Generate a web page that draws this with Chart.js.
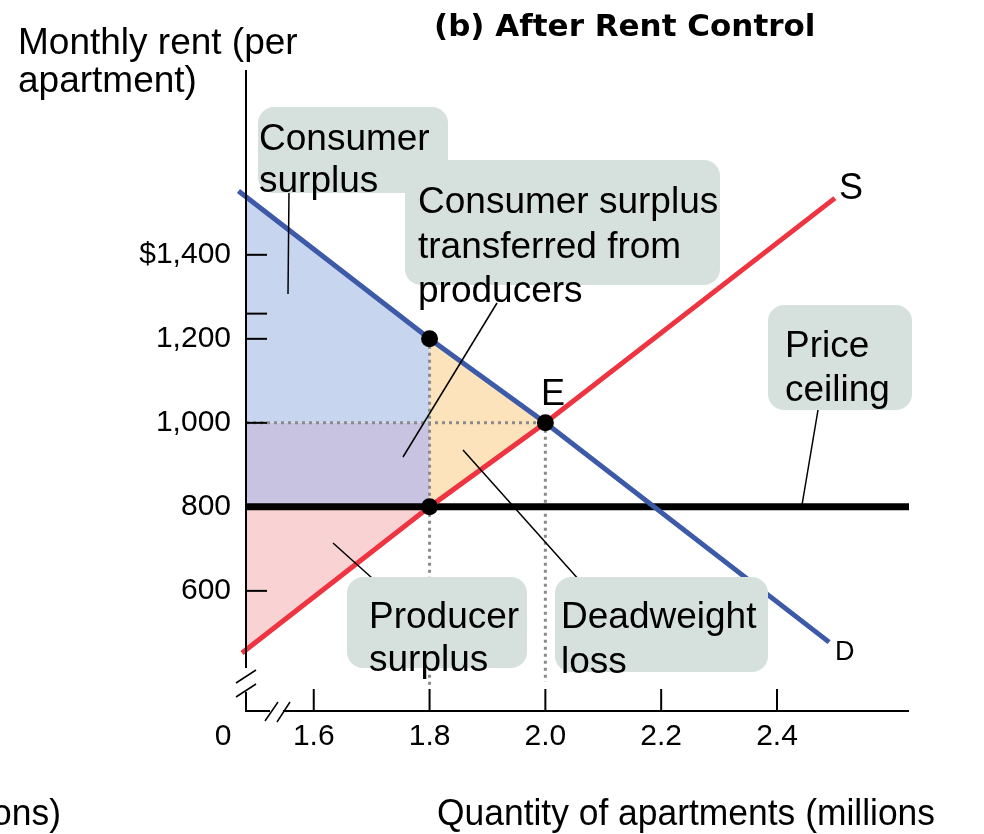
<!DOCTYPE html>
<html><head><meta charset="utf-8">
<script src="https://cdn.jsdelivr.net/npm/chart.js@4/dist/chart.umd.min.js"></script>
<style>html,body{margin:0;padding:0;background:#fff;}canvas{display:block}</style>
</head><body>
<canvas id="c" width="984" height="834"></canvas>
<script>
// ---- data ----
const xTickValues = [1.6, 1.8, 2.0, 2.2, 2.4];
const xTickLabels = ['1.6', '1.8', '2.0', '2.2', '2.4'];
const yTickValues = [600, 800, 1000, 1200, 1400];
const yTickLabels = ['600', '800', '1,000', '1,200', '$1,400'];
const yMinorTicks = [1260];
const xRange = [1.483, 2.628];
const yRange = [314, 1840];

const demandQ = [1.47, 1.8, 2.0, 2.49];
const demandP = [1552, 1200, 1000, 478];
const supplyQ = [1.476, 1.8, 2.0, 2.5];
const supplyP = [452, 800, 1000, 1535];
const ceilingQ = [1.483, 2.628];
const ceilingP = [800, 800];

const consumerQ = [1.483, 1.483, 1.8, 1.8];
const consumerP = [1000, 1538, 1200, 1000];
const transferQ = [1.483, 1.483, 1.8, 1.8];
const transferP = [800, 1000, 1000, 800];
const deadweightQ = [1.8, 2.0, 1.8];
const deadweightP = [1200, 1000, 800];
const producerQ = [1.483, 1.8, 1.483];
const producerP = [800, 800, 460];

const dotQ = [1.8, 2.0, 1.8];
const dotP = [1200, 1000, 800];

const guideH_Q = [1.483, 2.0], guideH_P = [1000, 1000];
const guide18_Q = [1.8, 1.8], guide18_P = [1200, 376];
const guide20_Q = [2.0, 2.0], guide20_P = [1000, 383];

const pts = (qs, ps) => qs.map((q, i) => ({x: q, y: ps[i]}));
const FONT = '"Liberation Sans", Arial, sans-serif';

function poly(q, p, color) {
  return {data: pts(q, p), borderWidth: 0, pointRadius: 0, fill: 'shape',
          backgroundColor: color, borderColor: 'rgba(0,0,0,0)', tension: 0};
}
function guide(q, p) {
  return {data: pts(q, p), borderColor: '#8a8a8a', borderWidth: 3, borderDash: [3, 4],
          pointRadius: 0, fill: false, tension: 0, clip: false};
}

const overlay = {
  id: 'overlay',
  afterDatasetsDraw(chart) {
    const ctx = chart.ctx, xs = chart.scales.x, ys = chart.scales.y;
    const L = xs.left, R = xs.right, T = ys.top, B = ys.bottom;
    const seg = (x1, y1, x2, y2) => { ctx.beginPath(); ctx.moveTo(x1, y1); ctx.lineTo(x2, y2); ctx.stroke(); };
    ctx.save();
    ctx.strokeStyle = '#000'; ctx.lineWidth = 2; ctx.lineCap = 'butt';
    // axes with breaks
    seg(L, T, L, B - 43); seg(L, B - 19, L, B + 1);
    seg(L - 1, B, L + 24, B); seg(L + 37, B, R, B);
    ctx.lineWidth = 1.5;
    seg(L - 10, B - 28, L + 10, B - 41);
    seg(L - 10, B - 14, L + 10, B - 27);
    seg(L + 19, B + 10, L + 32, B - 9);
    seg(L + 31, B + 11, L + 44, B - 9);
    ctx.lineWidth = 2;
    xTickValues.forEach(v => { const px = xs.getPixelForValue(v); seg(px, B, px, B - 22); });
    [...yTickValues, ...yMinorTicks].forEach(v => { const py = ys.getPixelForValue(v); seg(L, py, L + 21, py); });

    // origin label
    ctx.fillStyle = '#000';
    ctx.font = '30px ' + FONT; ctx.textAlign = 'center'; ctx.textBaseline = 'middle';
    ctx.fillText('0', L - 23, B + 26);

    // callout lines
    ctx.lineWidth = 1.5;
    seg(289, 190, 288, 294);
    seg(497, 303, 403, 457);
    seg(463, 450, 580, 581);
    seg(333, 543, 372, 578);
    seg(818, 410, 802, 505);

    // label boxes
    ctx.fillStyle = '#d6e1de';
    const box = (x, y, w, h) => { ctx.beginPath(); ctx.roundRect(x, y, w, h, 16); ctx.fill(); };
    box(258, 107, 190, 86);
    box(405, 160, 315, 125);
    box(768, 305, 144, 105);
    box(347, 577, 180, 91);
    box(555, 577, 213, 95);

    ctx.fillStyle = '#000'; ctx.textAlign = 'left'; ctx.textBaseline = 'alphabetic';
    ctx.font = '37px ' + FONT;
    ctx.fillText('Consumer', 259, 150);
    ctx.fillText('surplus', 259, 192);
    ctx.fillText('Consumer surplus', 418, 213);
    ctx.fillText('transferred from', 418, 258);
    ctx.fillText('producers', 418, 302);
    ctx.fillText('Price', 785, 357);
    ctx.fillText('ceiling', 785, 401);
    ctx.fillText('Producer', 369, 628);
    ctx.fillText('surplus', 369, 671);
    ctx.fillText('Deadweight', 561, 628);
    ctx.fillText('loss', 561, 673);

    // curve labels
    ctx.font = '36px ' + FONT;
    ctx.fillText('S', 839, 199);
    ctx.fillText('E', 541, 405);
    ctx.font = '27px ' + FONT;
    ctx.fillText('D', 835, 660);

    // axis titles
    ctx.font = '37px ' + FONT;
    ctx.fillText('Monthly rent (per', 18, 54);
    ctx.fillText('apartment)', 18, 92);
    ctx.font = '37px ' + FONT;
    const qt = 'Quantity of apartments (millions';
    const qw = ctx.measureText(qt).width, sc = 498 / qw;
    ctx.save(); ctx.translate(437, 825); ctx.scale(sc, 1); ctx.fillText(qt, 0, 0); ctx.restore();
    ctx.save(); ctx.translate(61, 825); ctx.scale(sc, 1); ctx.textAlign = 'right'; ctx.fillText('ons)', 0, 0); ctx.restore();

    // title
    ctx.font = 'bold 31px "DejaVu Sans", sans-serif';
    ctx.fillText('(b) After Rent Control', 434, 36);
    ctx.restore();
  }
};

new Chart(document.getElementById('c'), {
  type: 'line',
  data: {
    datasets: [
      {data: pts(dotQ, dotP), showLine: false, pointRadius: 8.5, pointBackgroundColor: '#000',
       pointBorderWidth: 0, clip: false},
      {data: pts(demandQ, demandP), borderColor: '#3d5aa8', borderWidth: 5, pointRadius: 0, fill: false, tension: 0, clip: false},
      {data: pts(supplyQ, supplyP), borderColor: '#ee3441', borderWidth: 5, pointRadius: 0, fill: false, tension: 0, clip: false},
      {data: pts(ceilingQ, ceilingP), borderColor: '#000', borderWidth: 7, pointRadius: 0, fill: false, tension: 0, clip: false},
      guide(guideH_Q, guideH_P),
      guide(guide18_Q, guide18_P),
      guide(guide20_Q, guide20_P),
      poly(consumerQ, consumerP, '#c8d5ef'),
      poly(transferQ, transferP, '#c7c3e1'),
      poly(deadweightQ, deadweightP, '#fde3bb'),
      poly(producerQ, producerP, '#f9d3d3')
    ]
  },
  options: {
    responsive: false, animation: false, events: [],
    layout: {padding: {top: 70, right: 75, left: 0, bottom: 0}},
    plugins: {legend: {display: false}, tooltip: {enabled: false}, title: {display: false}},
    scales: {
      x: {
        type: 'linear', min: xRange[0], max: xRange[1],
        grid: {display: false, drawTicks: false}, border: {display: false},
        afterBuildTicks: s => { s.ticks = xTickValues.map(v => ({value: v})); },
        afterFit: s => { s.height = 123; },
        ticks: {padding: 8, color: '#000', font: {size: 30, family: FONT},
                callback: (v, i) => xTickLabels[i], maxRotation: 0, autoSkip: false}
      },
      y: {
        type: 'linear', min: yRange[0], max: yRange[1],
        grid: {display: false, drawTicks: false}, border: {display: false},
        afterBuildTicks: s => { s.ticks = yTickValues.map(v => ({value: v})); },
        afterFit: s => { s.width = 246; },
        ticks: {padding: 15, color: '#000', font: {size: 30, family: FONT},
                callback: (v, i) => yTickLabels[i], autoSkip: false}
      }
    }
  },
  plugins: [overlay]
});
</script>
</body></html>
